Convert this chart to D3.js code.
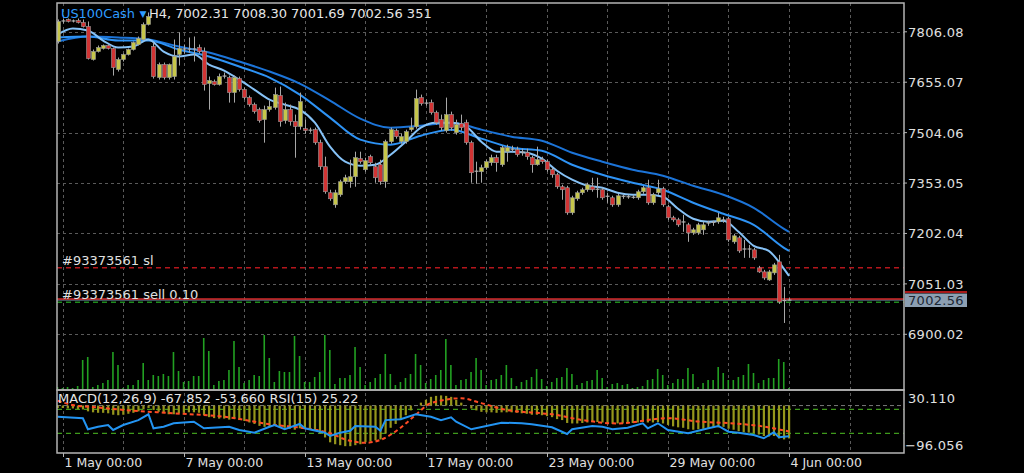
<!DOCTYPE html>
<html><head><meta charset="utf-8">
<script src="https://cdn.jsdelivr.net/npm/d3@7"></script>
<style>html,body{margin:0;padding:0;background:#000;overflow:hidden}</style>
</head><body><svg id="c" width="1024" height="473"></svg>
<script>
// ---------- DATA (H4 bars, index -1 = 30 Apr 20:00 ... 144 = 4 Jun 00:00) ----------
const firstBar = -1;
const opens = [7777,7837,7843,7837,7840,7834,7822,7723,7747,7756,7765,7756,7693,7723,7738,7753,7768,7783,7828,7762,7669,7708,7669,7672,7738,7756,7753,7756,7759,7747,7651,7657,7648,7672,7669,7624,7666,7633,7609,7588,7573,7543,7573,7579,7615,7540,7573,7537,7522,7516,7510,7513,7474,7402,7324,7288,7318,7357,7357,7372,7426,7393,7432,7402,7408,7357,7477,7510,7477,7477,7513,7522,7609,7594,7594,7564,7543,7510,7558,7504,7531,7534,7474,7390,7387,7399,7414,7429,7408,7447,7453,7453,7447,7444,7429,7408,7423,7417,7393,7378,7342,7339,7264,7306,7324,7333,7342,7336,7333,7312,7309,7288,7312,7312,7312,7309,7327,7339,7294,7324,7336,7282,7249,7243,7237,7228,7204,7204,7213,7234,7234,7237,7243,7246,7177,7189,7156,7155,7153,7099,7087,7063,7084,7117,7000,7002.31];
const highs = [7843,7846,7846,7843,7846,7843,7837,7753,7765,7768,7768,7759,7729,7741,7756,7777,7792,7834,7864,7774,7714,7714,7711,7783,7804,7768,7789,7792,7768,7759,7672,7663,7681,7684,7675,7675,7672,7639,7615,7594,7579,7585,7600,7639,7642,7594,7588,7558,7624,7543,7519,7519,7483,7432,7333,7333,7363,7378,7423,7447,7447,7429,7438,7414,7423,7483,7519,7516,7501,7513,7549,7633,7618,7603,7603,7570,7558,7609,7567,7543,7558,7543,7480,7417,7408,7423,7438,7438,7465,7468,7465,7462,7456,7456,7435,7462,7432,7423,7399,7384,7348,7345,7315,7330,7339,7354,7369,7369,7339,7324,7315,7321,7318,7318,7318,7333,7345,7363,7324,7363,7342,7288,7255,7249,7258,7234,7219,7234,7237,7240,7240,7264,7252,7252,7201,7195,7183,7168,7159,7105,7093,7093,7114,7138,7042,7008.30];
const lows = [7771,7831,7834,7834,7831,7819,7723,7720,7744,7753,7753,7675,7687,7717,7735,7750,7765,7780,7825,7666,7663,7663,7663,7663,7705,7741,7744,7717,7741,7630,7573,7645,7645,7666,7594,7594,7627,7603,7582,7561,7534,7474,7567,7573,7522,7531,7525,7429,7513,7501,7504,7468,7393,7321,7300,7279,7312,7351,7339,7342,7411,7387,7408,7354,7348,7339,7471,7486,7471,7471,7507,7516,7585,7585,7558,7528,7510,7504,7510,7498,7510,7468,7354,7351,7354,7393,7405,7387,7402,7417,7447,7432,7435,7423,7384,7405,7411,7387,7369,7336,7303,7258,7258,7300,7318,7327,7327,7309,7303,7294,7282,7282,7306,7306,7306,7303,7321,7288,7288,7318,7282,7243,7237,7222,7207,7177,7198,7198,7198,7225,7225,7231,7234,7177,7171,7144,7129,7129,7123,7084,7063,7060,7078,6991,6934,7001.69];
const closes = [7837,7840,7837,7840,7834,7822,7726,7747,7759,7765,7756,7699,7723,7738,7753,7774,7786,7828,7852,7672,7708,7669,7708,7732,7756,7753,7756,7753,7747,7648,7660,7648,7672,7675,7624,7669,7633,7609,7588,7567,7540,7573,7582,7618,7537,7573,7537,7522,7597,7510,7513,7474,7402,7327,7306,7324,7357,7369,7372,7429,7417,7420,7414,7369,7357,7477,7513,7492,7492,7507,7519,7606,7591,7591,7564,7534,7519,7558,7519,7528,7519,7474,7384,7387,7399,7417,7429,7414,7459,7459,7456,7438,7444,7432,7408,7423,7417,7393,7378,7342,7333,7264,7309,7324,7333,7348,7333,7333,7309,7315,7288,7315,7315,7312,7309,7327,7339,7294,7318,7336,7288,7249,7243,7228,7236,7204,7213,7228,7228,7233,7237,7249,7242,7183,7195,7150,7155,7156,7129,7087,7069,7087,7108,6997,7002.31,7002.56];
const volumes = [2,1,2,1,3,29,32,2,4,6,9,37,24,1,4,4,9,26,9,14,13,15,13,37,18,7,8,13,13,51,38,4,8,9,19,48,22,6,9,14,13,54,31,7,18,17,17,53,33,7,7,12,17,54,39,5,11,11,14,42,22,4,7,11,15,35,15,4,7,11,15,35,24,6,10,14,19,50,24,4,9,10,17,31,19,4,9,10,14,24,11,3,7,9,12,20,10,3,7,11,12,21,15,4,6,8,9,19,11,2,5,6,4,5,1,2,3,9,10,20,14,4,6,10,10,21,15,2,6,9,9,22,16,9,9,12,14,25,16,6,9,11,11,30,27,1];
const macdMain = [-5,-5,-6,-6,-7,-8,-12,-14,-15,-15,-16,-19,-20,-19,-17,-15,-12,-8,-5,-9,-13,-16,-18,-18,-16,-15,-14,-14,-15,-20,-24,-26,-27,-27,-29,-28,-30,-32,-35,-38,-42,-44,-44,-42,-45,-46,-48,-50,-47,-48,-49,-52,-58,-66,-76,-80,-82,-84,-84,-82,-80,-76,-74,-72,-70,-58,-46,-38,-30,-20,-10,0,6,12,18,20,21,20,18,12,6,0,-6,-10,-13,-14,-14,-15,-14,-14,-14,-15,-16,-17,-19,-19,-20,-22,-24,-28,-30,-36,-37,-37,-36,-35,-34,-34,-35,-36,-38,-37,-37,-37,-36,-35,-34,-35,-35,-34,-37,-40,-43,-45,-46,-49,-50,-49,-48,-47,-46,-45,-44,-48,-50,-53,-55,-56,-57,-60,-63,-64,-63,-68,-70,-68];
const signalIdx = [-1,2,7,12,22,32,42,48,53,56,60,63,67,70,73,79,83,88,95,97,103,110,120,126,133,138,144];
const signalVal = [10,1,-4,-9,-16,-23,-40,-47,-57,-70,-77,-71,-46,-19,5,15,5,-9,-16,-18,-30,-37,-26,-33,-37,-42,-53.66];
const rsiIdx = [-1,4,5,7,9,10,12,15,17,18,20,22,26,28,33,35,38,41,42,44,47,48,52,53,55,57,58,62,63,64,67,70,73,75,77,78,81,87,91,93,97,100,101,105,107,109,112,115,116,118,120,124,128,130,132,134,137,139,141,142,144];
const rsiVal = [57.7,55,36.7,41,43.8,35.5,43.8,52,61.7,38.3,41,46.7,49.3,38.3,41,35.5,31,41,43.8,36.7,45.5,38.3,31,25.5,31,34.3,42.2,41,34.3,52,53.3,61.7,57.7,52,56.7,49.3,36.7,47.7,46.7,45,40,28.8,36.7,42.2,41,36.7,39.3,46.7,38.3,46.7,35.5,30,38.3,42.2,32.7,31,27.2,21.7,31.7,23.3,25.22];
const maSlowIdx = [-1,5,11,17,23,29,35,41,47,53,59,65,71,77,83,89,95,101,107,113,119,125,131,137,143,144];
const maSlow = [7777,7792,7789,7783,7762,7744,7717,7687,7651,7600,7546,7519,7525,7534,7513,7492,7480,7444,7417,7393,7375,7345,7318,7279,7216,7207];
const maMidIdx = maSlowIdx;
const maMid = [7789,7792,7780,7780,7753,7732,7702,7669,7618,7549,7483,7468,7495,7513,7486,7459,7450,7408,7378,7354,7333,7294,7261,7228,7159,7150];
const maFastIdx = [-1,2,5,8,11,14,17,20,23,26,29,32,35,38,41,44,47,50,53,56,59,62,65,68,71,74,77,80,83,86,89,92,95,98,101,104,107,110,113,116,119,122,125,128,131,134,137,140,143,144];
const maFast = [7798,7816,7810,7780,7759,7762,7783,7747,7732,7738,7708,7690,7663,7633,7603,7588,7573,7534,7462,7417,7405,7408,7438,7477,7519,7534,7534,7522,7477,7447,7447,7444,7426,7390,7363,7345,7339,7324,7318,7318,7312,7276,7246,7237,7240,7207,7165,7150,7096,7075];
const priceTicks = [7806.08,7655.07,7504.06,7353.05,7202.04,7051.03,6900.02];
const timeTickIdx = [0,24,48,72,96,120,144];
const timeTickLabels = ["1 May 00:00","7 May 00:00","13 May 00:00","17 May 00:00","23 May 00:00","29 May 00:00","4 Jun 00:00"];
const gridIdx = [0,12,24,36,48,60,72,84,96,108,120,132,144,156];
const slPrice = 7099.5, askPrice = 7005.7, orderPrice = 6996, bidPrice = 7002.56;
const macdRange = [-96.056, 30.110];
const rsiLevels = [70, 30];
const titleSym = "US100Cash";
const titleRest = "H4, 7002.31 7008.30 7001.69 7002.56 351";
const subTitle = "MACD(12,26,9) -67.852 -53.660 RSI(15) 25.22";

// ---------- LAYOUT ----------
const L = 57, R = 904, T = 3, MB = 390, B = 453;
const svg = d3.select("#c");
svg.append("rect").attr("width",1024).attr("height",473).attr("fill","#000");
const font = "DejaVu Sans, Verdana, sans-serif";

const x = d3.scaleLinear().domain([0,144]).range([62.7,789]);
const y = d3.scaleLinear().domain([6900.02,7806.08]).range([334.3,31.8]);
const vy = d3.scaleLinear().domain([0,54]).range([389,335]);
const my = d3.scaleLinear().domain(macdRange).range([452,391]);
const ry = d3.scaleLinear().domain([30,70]).range([433.3,409.3]);

const defs = svg.append("defs");
defs.append("clipPath").attr("id","cm").append("rect").attr("x",L).attr("y",T).attr("width",R-L).attr("height",MB-T);
defs.append("clipPath").attr("id","cl").append("rect").attr("x",L).attr("y",MB).attr("width",R-L).attr("height",B-MB);

const gridCol = "#5a5a5a";
const vg = svg.append("g");
gridIdx.forEach(i=>{
  vg.append("line").attr("x1",Math.round(x(i))+0.5).attr("x2",Math.round(x(i))+0.5).attr("y1",T).attr("y2",B)
    .attr("stroke",gridCol).attr("stroke-dasharray","3,3");
});
priceTicks.forEach(p=>{
  svg.append("line").attr("x1",L).attr("x2",R).attr("y1",Math.round(y(p))+0.5).attr("y2",Math.round(y(p))+0.5)
    .attr("stroke",gridCol).attr("stroke-dasharray","3,3");
});

const main = svg.append("g").attr("clip-path","url(#cm)");
const idxOf = k => k + firstBar;

main.selectAll(".v").data(volumes).enter().append("rect")
  .attr("x",(d,k)=>x(idxOf(k))-1).attr("width",1.6)
  .attr("y",d=>vy(d)).attr("height",d=>vy(0)-vy(d)).attr("fill","#22a022");

main.append("line").attr("x1",L).attr("x2",R).attr("y1",y(slPrice)).attr("y2",y(slPrice))
  .attr("stroke","#b5161c").attr("stroke-width",1.5).attr("stroke-dasharray","5,4");
main.append("line").attr("x1",L).attr("x2",R).attr("y1",y(bidPrice)).attr("y2",y(bidPrice))
  .attr("stroke","#6f8aa3").attr("stroke-width",1);
main.append("line").attr("x1",L).attr("x2",R).attr("y1",y(askPrice)).attr("y2",y(askPrice))
  .attr("stroke","#d42a2a").attr("stroke-width",1.3);
main.append("line").attr("x1",L).attr("x2",R).attr("y1",y(orderPrice)).attr("y2",y(orderPrice))
  .attr("stroke","#1f8a1f").attr("stroke-width",1.3).attr("stroke-dasharray","5,4");

const maLine = (idxs, vals) => d3.line().curve(d3.curveMonotoneX).x((d,k)=>x(idxs[k])).y(d=>y(d))(vals);
main.append("path").attr("d",maLine(maSlowIdx,maSlow)).attr("fill","none").attr("stroke","#1c74d8").attr("stroke-width",2);
main.append("path").attr("d",maLine(maMidIdx,maMid)).attr("fill","none").attr("stroke","#2e93f5").attr("stroke-width",2);
main.append("path").attr("d",maLine(maFastIdx,maFast)).attr("fill","none").attr("stroke","#86c2f7").attr("stroke-width",2);

const cg = main.append("g");
opens.forEach((o,k)=>{
  const i = idxOf(k), c = closes[k], h = highs[k], l = lows[k];
  const cx = Math.round(x(i))+0.5;
  cg.append("line").attr("x1",cx).attr("x2",cx).attr("y1",y(h)).attr("y2",y(l)).attr("stroke","#a8a8a8").attr("stroke-width",1);
  const top = y(Math.max(o,c)), bot = y(Math.min(o,c));
  if (bot-top < 1.2) {
    cg.append("line").attr("x1",cx-2).attr("x2",cx+2).attr("y1",(top+bot)/2).attr("y2",(top+bot)/2).attr("stroke","#b0b0b0").attr("stroke-width",1.2);
  } else {
    cg.append("rect").attr("x",cx-2).attr("width",4).attr("y",top).attr("height",bot-top)
      .attr("fill", c>=o ? "#c6c64a" : "#d23434").attr("stroke","#9a9a9a").attr("stroke-width",0.6);
  }
});

const low = svg.append("g").attr("clip-path","url(#cl)");
low.append("line").attr("x1",L).attr("x2",R).attr("y1",my(0)).attr("y2",my(0)).attr("stroke","#777").attr("stroke-dasharray","4,3");
rsiLevels.forEach(v=>{
  low.append("line").attr("x1",L).attr("x2",R).attr("y1",ry(v)).attr("y2",ry(v)).attr("stroke","#3f9a1c").attr("stroke-width",1.2).attr("stroke-dasharray","5,4");
});
low.selectAll(".h").data(macdMain).enter().append("rect")
  .attr("x",(d,k)=>x(idxOf(k))-1).attr("width",2.2)
  .attr("y",d=>Math.min(my(d),my(0))).attr("height",d=>Math.abs(my(d)-my(0)))
  .attr("fill","#96961c");
low.append("path").attr("d",d3.line().curve(d3.curveMonotoneX).x((d,k)=>x(signalIdx[k])).y(d=>my(d))(signalVal))
  .attr("fill","none").attr("stroke","#ff4a24").attr("stroke-width",2).attr("stroke-dasharray","4,3");
low.append("path").attr("d",d3.line().x((d,k)=>x(rsiIdx[k])).y(d=>ry(d))(rsiVal))
  .attr("fill","none").attr("stroke","#2394f2").attr("stroke-width",2);

svg.append("rect").attr("x",L).attr("y",T).attr("width",R-L).attr("height",MB-T).attr("fill","none").attr("stroke","#b4b4b4").attr("stroke-width",1.5);
svg.append("rect").attr("x",L).attr("y",MB).attr("width",R-L).attr("height",B-MB).attr("fill","none").attr("stroke","#b4b4b4").attr("stroke-width",1.5);

const txt = (t,xx,yy,col,size,anchor) => svg.append("text").attr("x",xx).attr("y",yy).text(t)
  .attr("fill",col).attr("font-family",font).attr("font-size",size).attr("text-anchor",anchor||"start");
priceTicks.forEach(p=>{
  txt(d3.format(".2f")(p), 908, y(p)+5, "#e0e0e0", 13).attr("letter-spacing","0.3");
  svg.append("line").attr("x1",R).attr("x2",R+3).attr("y1",y(p)).attr("y2",y(p)).attr("stroke","#b4b4b4");
});
svg.append("rect").attr("x",905).attr("y",293.5).attr("width",62).attr("height",13.5).attr("fill","#8c9fb2");
svg.append("line").attr("x1",905).attr("x2",967).attr("y1",292).attr("y2",292).attr("stroke","#e02020").attr("stroke-width",1.5);
txt(d3.format(".2f")(bidPrice), 908, 305, "#1c2836", 13).attr("letter-spacing","0.3");
txt(d3.format(".3f")(macdRange[1]), 908, 403, "#e0e0e0", 13).attr("letter-spacing","0.3");
txt(d3.format(".3f")(macdRange[0]), 905, 450, "#e0e0e0", 13).attr("letter-spacing","0.3");

timeTickIdx.forEach((i,k)=>{
  const xx = Math.round(x(i))+0.5;
  svg.append("line").attr("x1",xx).attr("x2",xx).attr("y1",B).attr("y2",B+4).attr("stroke","#b4b4b4");
  txt(timeTickLabels[k], xx+1, 467, "#e0e0e0", 12.5);
});

const t1 = svg.append("text").attr("x",61).attr("y",17.5).attr("font-family",font).attr("font-size",13);
t1.append("tspan").text(titleSym).attr("fill","#2e9cff").attr("textLength",74).attr("lengthAdjust","spacingAndGlyphs");
t1.append("tspan").text("▼").attr("x",139.5).attr("dy",-0.5).attr("fill","#2e9cff").attr("font-size",9);
t1.append("tspan").text(titleRest).attr("x",149).attr("dy",0.5).attr("fill","#e6e6e6");
txt(subTitle, 58, 403, "#e6e6e6", 13);
txt("#93373561 sl", 62, 265, "#e0e0e0", 13);
txt("#93373561 sell 0.10", 62, 298.5, "#e0e0e0", 13);
</script></body></html>
